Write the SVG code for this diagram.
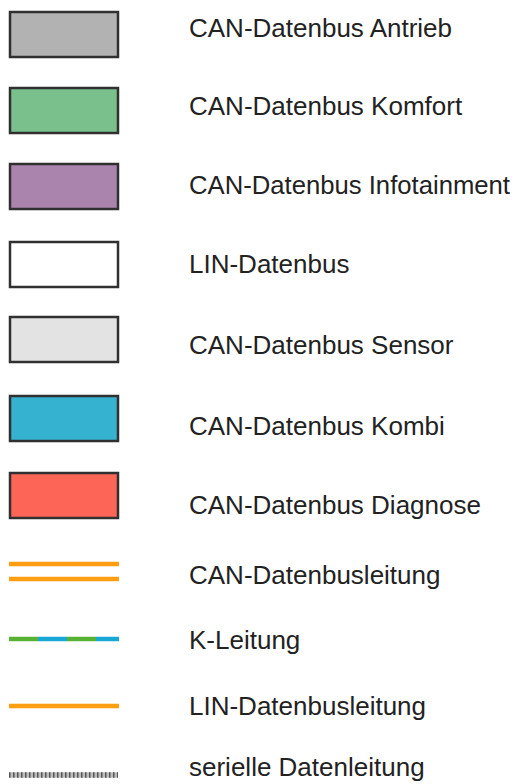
<svg xmlns="http://www.w3.org/2000/svg" width="517" height="784" viewBox="0 0 517 784">
<style>
.sw{stroke:#303030;stroke-width:2.5}
.lbl{font-family:"Liberation Sans",Arial,sans-serif;font-size:26px;fill:#222222}
.can{stroke:#ff9e12;stroke-width:4.5;fill:none}
</style>
<rect width="517" height="784" fill="#ffffff"/>
<g id="antrieb"><rect class="sw" x="10" y="12" width="108" height="45" fill="#b2b2b2"/><text class="lbl" x="189" y="37">CAN-Datenbus Antrieb</text></g>
<g id="komfort"><rect class="sw" x="10" y="88" width="108" height="45" fill="#79c08c"/><text class="lbl" x="189" y="115">CAN-Datenbus Komfort</text></g>
<g id="infotainment"><rect class="sw" x="10" y="164" width="108" height="45" fill="#aa84ad"/><text class="lbl" x="189" y="194" textLength="321" lengthAdjust="spacingAndGlyphs">CAN-Datenbus Infotainment</text></g>
<g id="lin"><rect class="sw" x="10" y="242" width="108" height="45" fill="#ffffff"/><text class="lbl" x="189" y="273">LIN-Datenbus</text></g>
<g id="sensor"><rect class="sw" x="10" y="317" width="108" height="45" fill="#e3e3e3"/><text class="lbl" x="189" y="354">CAN-Datenbus Sensor</text></g>
<g id="kombi"><rect class="sw" x="10" y="396" width="108" height="45" fill="#35b2cf"/><text class="lbl" x="189" y="435">CAN-Datenbus Kombi</text></g>
<g id="diagnose"><rect class="sw" x="10" y="473" width="108" height="45" fill="#fd6557"/><text class="lbl" x="189" y="514">CAN-Datenbus Diagnose</text></g>
<g id="connectors">
<line class="can" x1="9" y1="564" x2="119" y2="564"/>
<line class="can" x1="9" y1="579" x2="119" y2="579"/>
<line x1="9" y1="639" x2="38" y2="639" stroke="#57b234" stroke-width="4.5"/>
<line x1="38" y1="639" x2="67" y2="639" stroke="#19a8d6" stroke-width="4.5"/>
<line x1="67" y1="639" x2="96" y2="639" stroke="#57b234" stroke-width="4.5"/>
<line x1="96" y1="639" x2="119" y2="639" stroke="#19a8d6" stroke-width="4.5"/>
<line class="can" x1="9" y1="706" x2="119" y2="706"/>
<line x1="9" y1="775" x2="118" y2="775" stroke="#bdbdbd" stroke-width="5.5"/>
<line x1="9" y1="775" x2="118" y2="775" stroke="#555555" stroke-width="5.5" stroke-dasharray="1.5 2.5"/>
</g>
<g id="lines-labels">
<text class="lbl" x="189" y="584">CAN-Datenbusleitung</text>
<text class="lbl" x="189" y="649">K-Leitung</text>
<text class="lbl" x="189" y="715">LIN-Datenbusleitung</text>
<text class="lbl" x="189" y="776">serielle Datenleitung</text>
</g>
</svg>
